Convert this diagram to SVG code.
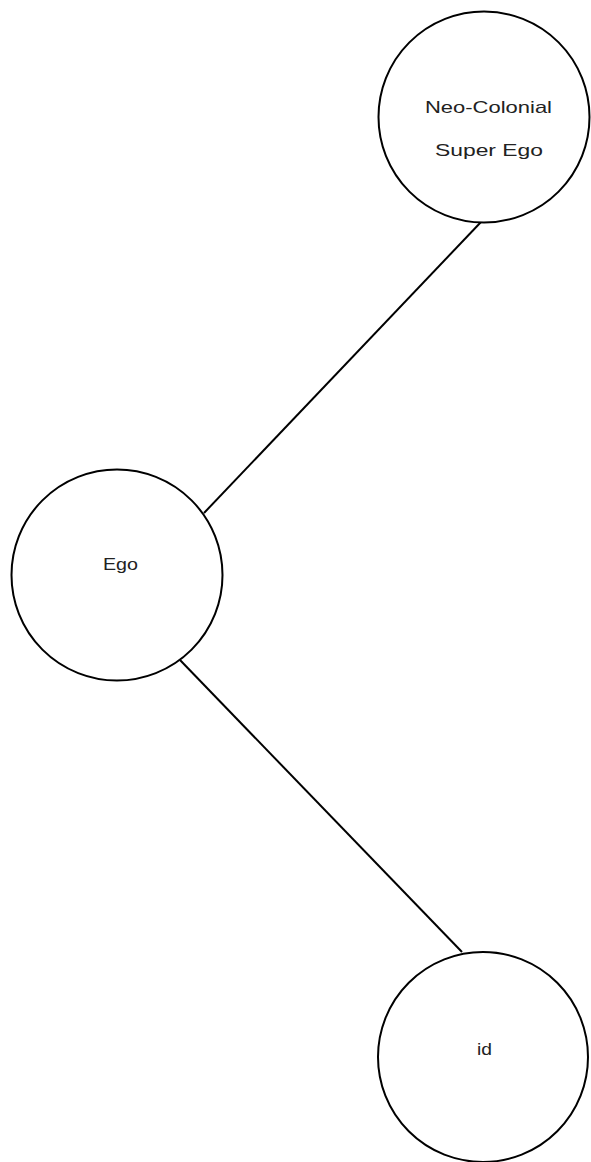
<svg xmlns="http://www.w3.org/2000/svg" width="591" height="1162" viewBox="0 0 591 1162">
<style>
.node circle{fill:#fff;stroke:#000;stroke-width:2}
.node text{font-family:"Liberation Sans",Arial,sans-serif;font-size:16.5px;fill:#222;text-anchor:middle}
.edge{stroke:#000;stroke-width:2;fill:none}
</style>
<rect width="591" height="1162" fill="#fff"/>
<g id="connectors">
<line class="edge" x1="481" y1="222" x2="204" y2="513"/>
<line class="edge" x1="180" y1="660" x2="462" y2="952"/>
</g>
<g id="node-superego" class="node">
<circle cx="484" cy="117" r="105.5"/>
<text x="488.5" y="113" textLength="127" lengthAdjust="spacingAndGlyphs">Neo-Colonial</text>
<text x="489" y="156" textLength="108" lengthAdjust="spacingAndGlyphs">Super Ego</text>
</g>
<g id="node-ego" class="node">
<circle cx="117" cy="575" r="105.5"/>
<text x="120.5" y="570" textLength="35" lengthAdjust="spacingAndGlyphs">Ego</text>
</g>
<g id="node-id" class="node">
<circle cx="483" cy="1057" r="105"/>
<text x="484.5" y="1055" textLength="15" lengthAdjust="spacingAndGlyphs">id</text>
</g>
</svg>
